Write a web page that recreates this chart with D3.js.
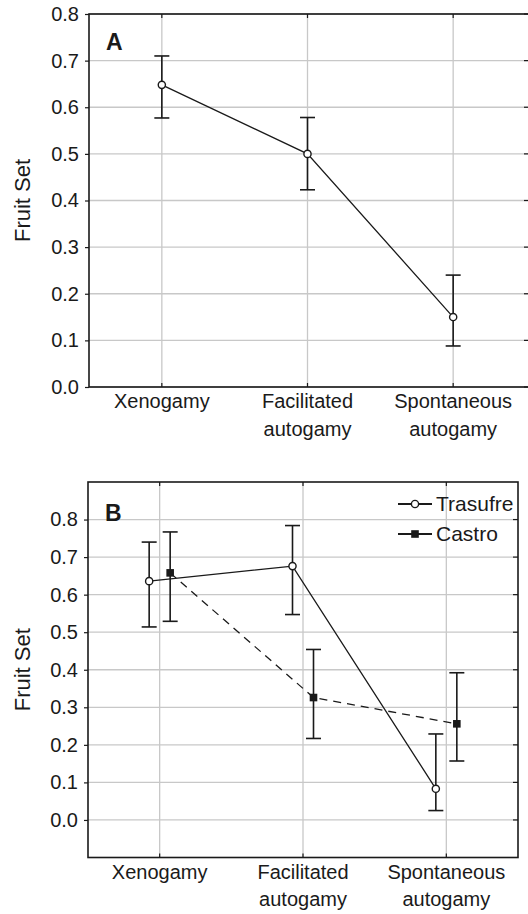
<!DOCTYPE html>
<html>
<head>
<meta charset="utf-8">
<script src="https://cdn.jsdelivr.net/npm/d3@7"></script>
<style>
  body { margin: 0; background: #fff; }
  svg { display: block; font-family: "Liberation Sans", Arial, sans-serif; }
</style>
</head>
<body>
<svg width="528" height="914"></svg>
<script>
// categories (x axis)
var categories = ["Xenogamy", "Facilitated autogamy", "Spontaneous autogamy"];
var categoryLines = [["Xenogamy"], ["Facilitated", "autogamy"], ["Spontaneous", "autogamy"]];

// panel A: single series
var meanA  = [0.648, 0.500, 0.150];
var upperA = [0.710, 0.578, 0.240];
var lowerA = [0.577, 0.423, 0.088];

// panel B: two populations
var seriesNames = ["Trasufre", "Castro"];
var meanTrasufre  = [0.636, 0.676, 0.083];
var upperTrasufre = [0.740, 0.784, 0.229];
var lowerTrasufre = [0.514, 0.547, 0.025];
var meanCastro  = [0.658, 0.326, 0.256];
var upperCastro = [0.767, 0.454, 0.392];
var lowerCastro = [0.529, 0.217, 0.157];

var yTicks = [0.0, 0.1, 0.2, 0.3, 0.4, 0.5, 0.6, 0.7, 0.8];

var svg = d3.select("svg");
var ink = "#1a1a1a";

function rows(mean, upper, lower) {
    return categories.map(function(c, i) {
        return { cat: c, m: mean[i], hi: upper[i], lo: lower[i] };
    });
}

// draws the frame, grid, ticks and labels of one panel; returns the scales
function drawPanel(box, yDomain, letter) {
    var x = d3.scalePoint().domain(categories)
        .range([box.left, box.xEnd]).padding(0.5);
    var y = d3.scaleLinear().domain(yDomain).range([box.bottom, box.top]);
    var g = svg.append("g");

    // grid
    g.selectAll("line.hgrid").data(yTicks).enter().append("line")
        .attr("class", "hgrid")
        .attr("x1", box.left).attr("x2", box.right)
        .attr("y1", function(d) { return y(d); })
        .attr("y2", function(d) { return y(d); })
        .attr("stroke", "#c8c8c8").attr("stroke-width", 1.3);
    g.selectAll("line.vgrid").data(categories).enter().append("line")
        .attr("class", "vgrid")
        .attr("x1", function(d) { return x(d); })
        .attr("x2", function(d) { return x(d); })
        .attr("y1", box.top).attr("y2", box.bottom)
        .attr("stroke", "#c8c8c8").attr("stroke-width", 1.3);

    // left axis (labels + small ticks)
    var left = g.append("g").attr("transform", "translate(" + box.left + ",0)")
        .call(d3.axisLeft(y).tickValues(yTicks).tickSize(4).tickPadding(6)
              .tickFormat(d3.format(".1f")));
    left.select(".domain").remove();
    left.selectAll("text").attr("font-size", 20).attr("fill", ink)
        .attr("font-family", "Liberation Sans, Arial, sans-serif");
    left.selectAll("line").attr("stroke", ink).attr("stroke-width", 1.2);

    // inward ticks on right, top and bottom
    g.selectAll("line.rtick").data(yTicks).enter().append("line")
        .attr("x1", box.right - 5).attr("x2", box.right)
        .attr("y1", function(d) { return y(d); })
        .attr("y2", function(d) { return y(d); })
        .attr("stroke", ink).attr("stroke-width", 1.2);
    [box.top, box.bottom].forEach(function(yy) {
        g.selectAll(null).data(categories).enter().append("line")
            .attr("x1", function(d) { return x(d); })
            .attr("x2", function(d) { return x(d); })
            .attr("y1", yy).attr("y2", yy === box.top ? yy + 4 : yy - 4)
            .attr("stroke", ink).attr("stroke-width", 1.2);
    });

    // frame
    g.append("rect")
        .attr("x", box.left).attr("y", box.top)
        .attr("width", box.right - box.left).attr("height", box.bottom - box.top)
        .attr("fill", "none").attr("stroke", ink).attr("stroke-width", 1.6);

    // category labels
    var lab = g.selectAll("text.cat").data(categories).enter().append("text")
        .attr("class", "cat")
        .attr("text-anchor", "middle")
        .attr("font-size", 20).attr("fill", ink);
    lab.selectAll("tspan").data(function(d, i) { return categoryLines[i]; })
        .enter().append("tspan")
        .attr("x", function() { return x(d3.select(this.parentNode).datum()); })
        .attr("y", function(d, j) { return box.bottom + 21 + j * 27.5; })
        .text(function(d) { return d; });

    // y title
    g.append("text")
        .attr("transform", "translate(30," + ((box.top + box.bottom) / 2) + ") rotate(-90)")
        .attr("text-anchor", "middle")
        .attr("font-size", 22).attr("fill", ink)
        .text("Fruit Set");

    // panel letter
    g.append("text")
        .attr("x", box.left + 17).attr("y", box.letterY)
        .attr("font-size", 23).attr("font-weight", "bold").attr("fill", ink)
        .text(letter);

    return { x: x, y: y };
}

function drawSeries(sc, data, offset, dashed, marker) {
    var g = svg.append("g");
    var px = function(d) { return sc.x(d.cat) + offset; };

    g.append("path").datum(data)
        .attr("d", d3.line().x(px).y(function(d) { return sc.y(d.m); }))
        .attr("fill", "none").attr("stroke", ink).attr("stroke-width", 1.3)
        .attr("stroke-dasharray", dashed ? "8,6" : null);

    // error bars
    g.selectAll("line.err").data(data).enter().append("line")
        .attr("x1", px).attr("x2", px)
        .attr("y1", function(d) { return sc.y(d.hi); })
        .attr("y2", function(d) { return sc.y(d.lo); })
        .attr("stroke", ink).attr("stroke-width", 1.6);
    ["hi", "lo"].forEach(function(k) {
        g.selectAll(null).data(data).enter().append("line")
            .attr("x1", function(d) { return px(d) - 7.5; })
            .attr("x2", function(d) { return px(d) + 7.5; })
            .attr("y1", function(d) { return sc.y(d[k]); })
            .attr("y2", function(d) { return sc.y(d[k]); })
            .attr("stroke", ink).attr("stroke-width", 1.6);
    });

    drawMarkers(g, data, marker, px, function(d) { return sc.y(d.m); });
}

function drawMarkers(g, data, marker, fx, fy) {
    if (marker === "circle") {
        g.selectAll("circle").data(data).enter().append("circle")
            .attr("cx", fx).attr("cy", fy).attr("r", 3.6)
            .attr("fill", "#fff").attr("stroke", ink).attr("stroke-width", 1.4);
    } else {
        g.selectAll("rect").data(data).enter().append("rect")
            .attr("x", function(d) { return fx(d) - 3.8; })
            .attr("y", function(d) { return fy(d) - 3.8; })
            .attr("width", 7.6).attr("height", 7.6)
            .attr("fill", ink);
    }
}

// panel A
var scA = drawPanel({ left: 89, right: 529, xEnd: 526, top: 14, bottom: 387, letterY: 50 },
                    [0, 0.8], "A");
drawSeries(scA, rows(meanA, upperA, lowerA), 0, false, "circle");

// panel B
var scB = drawPanel({ left: 88, right: 518, xEnd: 518, top: 482, bottom: 857.5, letterY: 521 },
                    [-0.1, 0.9], "B");
drawSeries(scB, rows(meanTrasufre, upperTrasufre, lowerTrasufre), -10.5, false, "circle");
drawSeries(scB, rows(meanCastro, upperCastro, lowerCastro), 10.5, true, "square");

// legend
var legend = svg.append("g");
var legendMarkers = ["circle", "square"];
seriesNames.forEach(function(name, i) {
    var yy = 504 + i * 30;
    var row = legend.append("g");
    row.append("line").attr("x1", 398).attr("x2", 432)
        .attr("y1", yy).attr("y2", yy)
        .attr("stroke", ink).attr("stroke-width", 2);
    drawMarkers(row, [name], legendMarkers[i],
                function() { return 415; }, function() { return yy; });
    row.append("text").attr("x", 436).attr("y", yy + 7)
        .attr("font-size", 21).attr("fill", ink)
        .text(name);
});
</script>
</body>
</html>
